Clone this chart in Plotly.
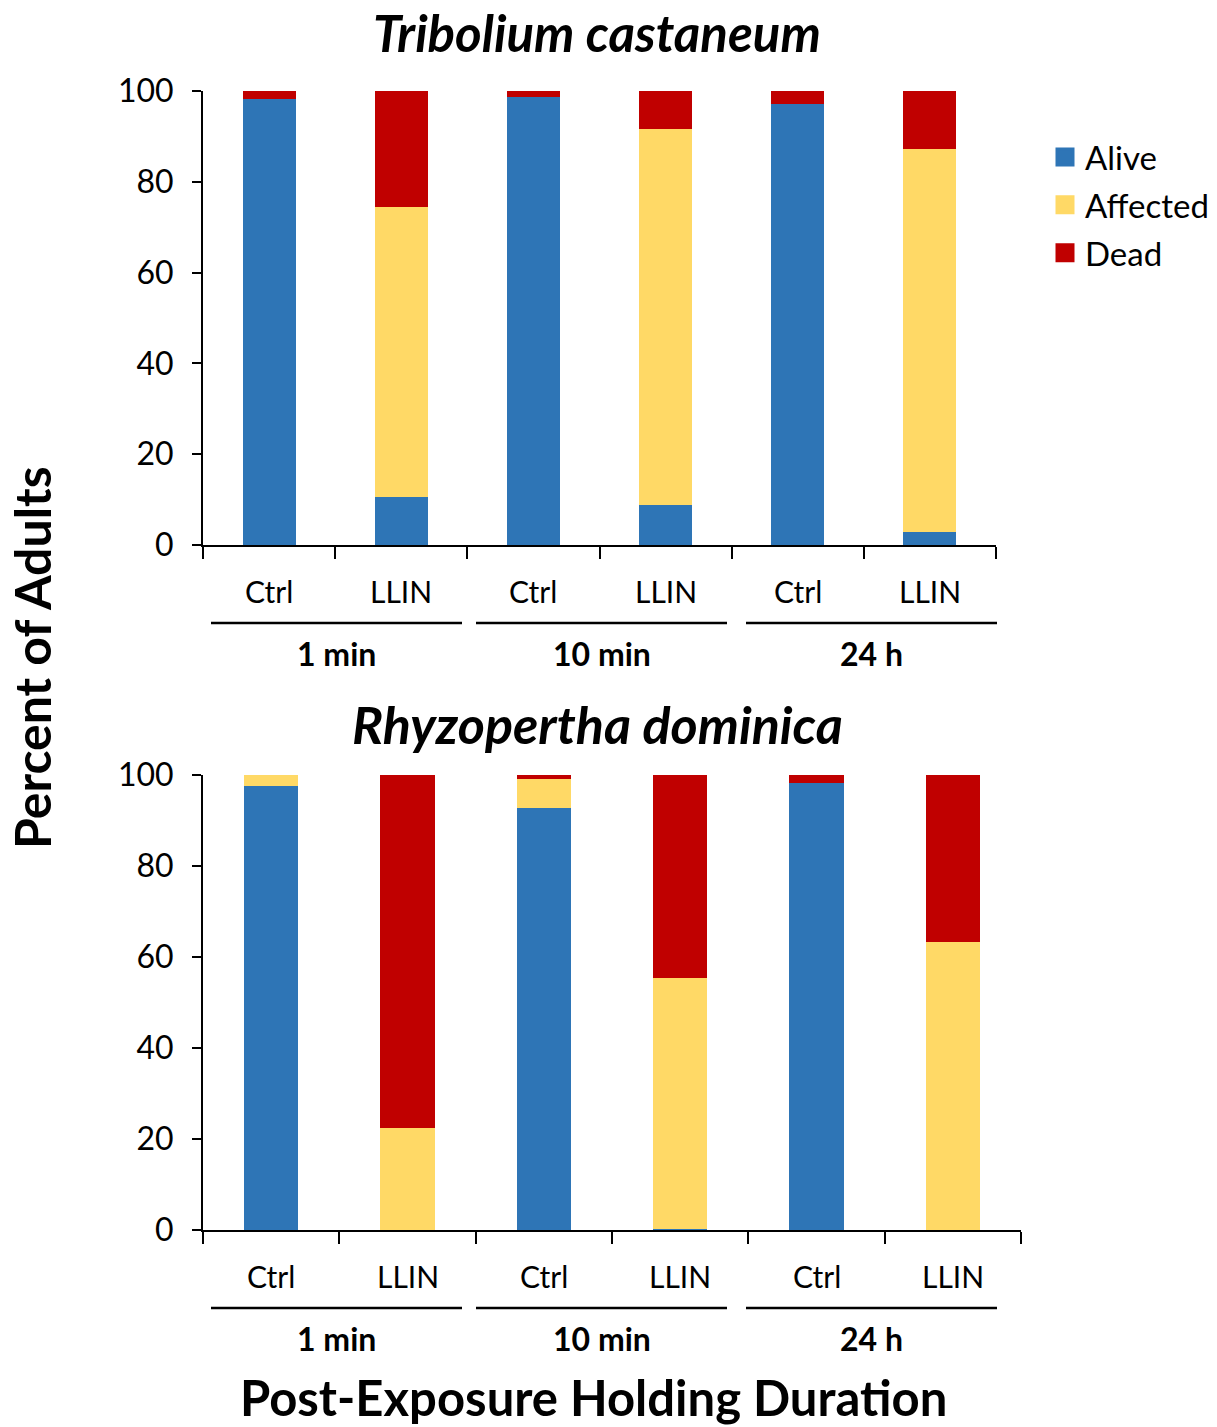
import plotly.graph_objects as go

# Categories along each panel's x axis
treatments = ["Ctrl", "LLIN", "Ctrl", "LLIN", "Ctrl", "LLIN"]
durations = ["1 min", "10 min", "24 h"]

# Tribolium castaneum (% of adults)
tc_alive = [98.2, 10.5, 98.7, 8.8, 97.2, 2.9]
tc_affected = [0.0, 64.0, 0.0, 82.8, 0.0, 84.3]
tc_dead = [1.8, 25.5, 1.3, 8.4, 2.8, 12.8]

# Rhyzopertha dominica (% of adults)
rd_alive = [97.5, 0.0, 92.8, 0.3, 98.3, 0.0]
rd_affected = [2.5, 22.4, 6.3, 55.1, 0.0, 63.3]
rd_dead = [0.0, 77.6, 0.9, 44.6, 1.7, 36.7]

y_ticks = [0, 20, 40, 60, 80, 100]
status = ["Alive", "Affected", "Dead"]

COLORS = {"Alive": "#2E75B6", "Affected": "#FFD966", "Dead": "#C00000"}
FONT = "Lato"
W, H = 1217, 1427


def py(px):
    """Convert a pixel row (from the top) to paper units."""
    return 1 - px / H


fig = go.Figure()
xs = list(range(len(treatments)))

panels = [
    ("x", "y", [tc_alive, tc_affected, tc_dead]),
    ("x2", "y2", [rd_alive, rd_affected, rd_dead]),
]
for xa, ya, series in panels:
    for name, vals in zip(status, series):
        fig.add_trace(go.Bar(
            x=xs, y=vals, name=name, xaxis=xa, yaxis=ya,
            marker=dict(color=COLORS[name], line=dict(width=0)),
            width=0.4, showlegend=False,
        ))

# Legend entries with large square swatches
for name in status:
    fig.add_trace(go.Scatter(
        x=[None], y=[None], mode="markers", name=name,
        marker=dict(symbol="square", size=16, color=COLORS[name],
                    line=dict(color=COLORS[name], width=3)),
        showlegend=True, legendgroup=name,
    ))

fig.update_layout(
    barmode="stack",
    width=W, height=H,
    margin=dict(l=0, r=0, t=0, b=0, autoexpand=False),
    paper_bgcolor="white", plot_bgcolor="white",
    font=dict(family=FONT, color="black", size=30),
    legend=dict(x=1045 / W, y=py(129), xanchor="left", yanchor="top",
                font=dict(size=33, family=FONT), itemwidth=30,
                tracegroupgap=2, bgcolor="rgba(0,0,0,0)"),
)

axis_common = dict(
    range=[-0.5, 5.5], tickvals=[-0.5 + i for i in range(7)], ticktext=[""] * 7,
    ticks="outside", ticklen=12, tickwidth=2, tickcolor="black",
    showline=True, linecolor="black", linewidth=2, showgrid=False,
    zeroline=False, automargin=False,
)
yaxis_common = dict(
    range=[0, 100], tickvals=y_ticks, ticks="outside", ticklen=9, tickwidth=2,
    tickcolor="black", showline=True, linecolor="black", linewidth=2,
    showgrid=False, zeroline=False, automargin=False, ticklabelstandoff=12,
    tickfont=dict(size=32, family=FONT),
)

fig.update_layout(
    xaxis=dict(domain=[203 / W, 996 / W], anchor="y", **axis_common),
    yaxis=dict(domain=[py(545), py(91)], anchor="x", **yaxis_common),
    xaxis2=dict(domain=[203 / W, 1021 / W], anchor="y2", **axis_common),
    yaxis2=dict(domain=[py(1230), py(775)], anchor="x2", **yaxis_common),
)

# Treatment labels beneath each bar
for xa, ya in [("x", "y"), ("x2", "y2")]:
    for i, t in enumerate(treatments):
        fig.add_annotation(x=i, y=0, xref=xa, yref=f"{ya} domain", text=t,
                           showarrow=False, xanchor="center", yanchor="middle",
                           yshift=-46, font=dict(size=30, family=FONT))

# Duration groups: underline plus bold label (pixel columns)
group_px = [(211, 462), (476, 727), (746, 997)]
for line_px, axis_bottom_px in [(623, 545), (1308, 1230)]:
    for (x0, x1), d in zip(group_px, durations):
        fig.add_shape(type="line", xref="paper", yref="paper",
                      x0=x0 / W, x1=x1 / W, y0=py(line_px), y1=py(line_px),
                      line=dict(color="black", width=2.5))
        fig.add_annotation(x=(x0 + x1) / 2 / W, y=py(axis_bottom_px + 108),
                           xref="paper", yref="paper",
                           text=f"<b>{d}</b>", showarrow=False,
                           xanchor="center", yanchor="middle",
                           font=dict(size=32, family=FONT))

# Panel titles
fig.add_annotation(x=597 / W, y=py(33), xref="paper", yref="paper",
                   text="<b><i>Tribolium castaneum</i></b>", showarrow=False,
                   xanchor="center", yanchor="middle",
                   font=dict(size=51, family=FONT))
fig.add_annotation(x=597 / W, y=py(724), xref="paper", yref="paper",
                   text="<b><i>Rhyzopertha dominica</i></b>", showarrow=False,
                   xanchor="center", yanchor="middle",
                   font=dict(size=52, family=FONT))

# Shared axis titles
fig.add_annotation(x=32 / W, y=py(658), xref="paper", yref="paper",
                   text="<b>Percent of Adults</b>", showarrow=False, textangle=-90,
                   xanchor="center", yanchor="middle",
                   font=dict(size=50, family=FONT))
fig.add_annotation(x=593 / W, y=py(1397), xref="paper", yref="paper",
                   text="<b>Post-Exposure Holding Duration</b>", showarrow=False,
                   xanchor="center", yanchor="middle",
                   font=dict(size=49, family=FONT))

fig.write_html("out.html")
